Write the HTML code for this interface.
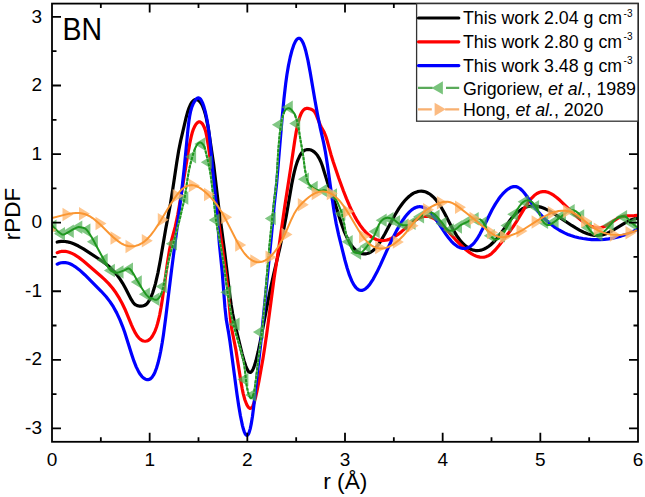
<!DOCTYPE html>
<html><head><meta charset="utf-8"><style>
html,body{margin:0;padding:0;background:#fff;}
body{width:645px;height:497px;overflow:hidden;font-family:"Liberation Sans",sans-serif;}
svg{display:block;}
</style></head><body>
<svg width="645" height="497" viewBox="0 0 645 497">
<rect width="645" height="497" fill="#fff"/>
<defs><clipPath id="pc"><rect x="52.00" y="3.60" width="586.00" height="438.20"/></clipPath></defs>
<g clip-path="url(#pc)">
<g fill="none" stroke-linejoin="round" stroke-linecap="round">
<path d="M57.20,242.05 59.20,241.62 61.20,241.39 63.20,241.35 65.20,241.50 67.20,241.80 69.45,242.33 71.70,243.04 74.20,244.00 78.45,246.03 83.45,248.89 101.20,260.51 105.95,263.98 110.20,267.59 113.95,271.39 117.45,275.58 120.20,279.40 122.70,283.33 125.45,288.22 131.20,299.41 132.95,302.16 134.45,303.93 135.70,304.93 137.20,305.67 138.95,306.05 140.95,306.12 142.70,305.97 144.20,305.56 145.70,304.74 146.95,303.67 148.45,301.80 149.95,299.26 151.45,296.01 152.70,292.73 154.20,288.09 155.45,283.60 157.95,272.86 160.45,259.73 165.70,228.93 170.45,203.84 172.45,191.28 176.70,162.67 178.70,150.54 180.70,140.60 186.20,117.21 187.45,112.58 188.95,108.05 190.45,104.58 191.95,102.08 193.45,100.47 194.20,99.97 194.95,99.65 195.70,99.52 196.70,99.60 197.45,99.84 198.45,100.38 199.95,101.71 201.45,103.82 202.70,106.31 203.95,109.57 205.20,113.72 206.45,118.85 207.70,125.09 208.70,130.93 213.70,164.76 218.95,209.22 224.45,250.19 229.70,294.08 231.20,305.09 232.70,314.09 234.20,321.20 240.20,346.09 242.20,354.07 243.95,360.38 245.70,365.76 247.20,369.33 247.95,370.67 248.70,371.66 249.45,372.26 250.20,372.44 250.95,372.18 251.95,371.18 252.95,369.47 253.95,367.13 255.95,360.77 258.20,351.47 260.45,340.58 266.95,306.33 270.70,287.66 273.70,273.99 279.95,247.28 283.20,232.02 286.45,214.83 291.70,184.41 293.20,176.82 294.45,171.35 295.70,166.64 296.95,162.64 298.20,159.29 299.45,156.54 300.70,154.33 302.20,152.33 303.70,150.93 305.45,149.95 307.20,149.54 308.95,149.54 310.95,150.03 312.70,150.87 314.45,152.12 316.20,153.85 317.70,155.81 319.20,158.30 320.95,162.01 322.45,165.95 327.45,182.37 329.20,187.42 334.45,201.60 341.45,223.81 343.70,230.03 345.95,235.41 347.70,239.04 349.70,242.64 351.70,245.68 353.70,248.19 355.70,250.21 357.95,251.93 359.95,253.00 362.20,253.70 363.70,253.89 365.45,253.84 367.20,253.52 368.95,252.93 370.70,252.10 372.45,250.98 373.95,249.77 375.45,248.29 378.20,244.87 381.45,239.88 384.95,233.70 391.95,220.39 395.20,214.50 398.95,208.41 402.45,203.51 404.70,200.76 406.70,198.60 408.95,196.48 410.95,194.89 413.20,193.42 415.20,192.42 417.45,191.64 419.45,191.25 421.45,191.16 423.20,191.32 425.20,191.80 426.95,192.48 428.95,193.55 430.70,194.75 432.70,196.42 434.45,198.16 436.20,200.15 437.95,202.40 441.20,207.29 444.45,213.04 450.95,225.63 453.70,230.69 456.70,235.59 459.70,239.78 461.45,241.90 463.45,244.02 465.45,245.84 467.45,247.36 469.45,248.59 471.45,249.52 473.45,250.17 475.45,250.54 477.20,250.64 479.20,250.50 480.95,250.16 482.95,249.53 484.70,248.77 486.70,247.67 488.45,246.51 490.45,244.97 494.20,241.46 497.95,237.20 501.45,232.58 509.70,220.75 512.20,217.62 514.95,214.62 518.45,211.48 521.95,209.05 525.45,207.34 527.20,206.73 528.95,206.30 530.70,206.03 532.70,205.90 534.70,205.95 536.70,206.18 540.70,207.11 545.20,208.81 549.45,210.92 553.95,213.56 571.70,225.48 575.70,227.98 579.45,230.12 583.70,232.22 587.45,233.70 590.95,234.72 594.45,235.33 597.45,235.49 600.45,235.27 603.20,234.72 606.20,233.72 608.95,232.50 612.20,230.76 623.45,223.79 628.20,221.16 630.70,220.03 632.95,219.21 635.20,218.62 637.20,218.32" stroke="#000" stroke-width="3.2"/>
<path d="M57.20,252.63 59.20,251.89 61.20,251.46 63.20,251.30 65.45,251.42 67.45,251.78 69.70,252.45 71.95,253.37 74.45,254.65 78.70,257.36 83.70,261.20 100.45,275.72 104.20,279.11 108.70,283.64 112.45,288.03 115.95,292.81 119.45,298.40 122.20,303.46 124.95,309.20 131.45,324.82 133.45,329.31 135.45,333.18 137.45,336.26 138.95,338.06 140.45,339.45 141.95,340.44 143.45,341.03 145.20,341.25 146.70,341.04 148.20,340.42 149.70,339.34 151.20,337.75 152.45,335.99 153.95,333.32 155.20,330.57 156.45,327.23 157.45,324.03 158.70,319.26 159.70,314.73 160.95,308.06 162.45,298.68 167.45,262.83 169.45,250.13 171.20,241.71 175.20,226.89 177.70,214.96 180.95,196.58 188.20,151.99 189.70,143.77 191.20,136.71 192.20,132.85 193.45,129.09 194.70,126.30 195.95,124.25 197.45,122.60 198.70,121.92 199.45,121.83 199.95,121.90 201.20,122.56 202.45,123.93 203.45,125.56 204.45,127.74 205.20,129.90 205.95,132.66 206.70,136.11 208.45,146.52 210.20,159.31 215.45,200.79 222.45,248.88 226.95,281.74 228.45,295.34 230.45,318.64 231.20,325.13 231.95,329.94 235.95,350.14 240.95,381.79 242.20,388.81 243.20,393.56 244.95,399.99 246.70,404.47 247.70,406.32 248.70,407.61 249.70,408.30 250.45,408.38 251.20,408.07 251.70,407.63 252.45,406.60 252.95,405.66 254.20,402.37 255.45,397.85 256.95,391.23 258.95,381.23 262.95,358.83 264.95,346.10 266.70,333.94 274.20,277.44 278.70,248.47 284.70,206.65 290.70,168.12 294.70,140.95 296.20,131.84 297.20,126.69 298.20,122.34 299.20,118.71 300.20,115.75 301.20,113.40 302.45,111.21 303.70,109.74 304.95,108.86 306.20,108.46 307.70,108.43 310.45,108.99 312.20,109.67 313.45,110.59 314.45,111.71 315.45,113.28 316.20,114.80 320.20,124.88 321.20,126.92 324.20,132.35 325.70,136.00 327.20,140.81 330.95,154.41 333.20,161.69 338.70,177.96 343.45,191.02 346.45,198.65 349.45,205.70 352.20,211.58 354.95,216.87 357.45,221.18 360.20,225.38 362.95,229.03 365.70,232.15 368.45,234.75 371.20,236.86 373.95,238.47 376.95,239.70 378.70,240.17 380.45,240.46 382.20,240.57 383.95,240.51 385.70,240.28 387.45,239.89 389.20,239.34 391.20,238.52 394.45,236.77 397.95,234.38 401.70,231.40 411.45,223.16 414.45,220.90 416.95,219.26 419.95,217.67 422.95,216.59 425.70,216.16 428.20,216.29 430.70,216.96 433.45,218.23 436.20,220.00 439.20,222.41 441.70,224.71 444.70,227.75 455.45,239.52 460.20,244.46 464.95,248.90 469.45,252.44 471.70,253.91 473.95,255.15 475.95,256.03 477.95,256.69 479.95,257.10 481.95,257.24 483.95,257.10 485.70,256.72 487.45,256.10 488.95,255.35 490.45,254.40 491.95,253.23 495.20,250.01 499.20,245.17 508.20,233.59 512.70,227.40 516.45,221.62 525.95,205.85 528.95,201.45 531.45,198.30 534.20,195.54 536.95,193.53 539.70,192.22 541.20,191.80 542.70,191.58 545.20,191.64 547.95,192.28 550.95,193.60 553.95,195.45 556.95,197.72 560.20,200.54 574.70,214.55 578.20,217.72 581.20,220.23 584.70,222.82 587.95,224.84 590.95,226.30 593.95,227.31 596.45,227.78 598.95,227.86 601.45,227.52 603.70,226.84 605.70,225.93 607.70,224.81 617.20,218.64 619.70,217.39 621.95,216.61 624.20,216.11 626.45,215.84 634.20,215.59 637.20,215.33" stroke="#ff0000" stroke-width="3.2"/>
<path d="M57.20,264.20 59.20,263.28 61.20,262.72 63.20,262.48 65.45,262.58 67.70,263.03 69.95,263.81 72.45,265.01 74.95,266.54 79.45,269.94 84.70,274.71 101.20,291.26 106.20,296.77 109.95,301.62 113.45,306.99 116.70,312.89 119.95,319.84 122.45,326.03 124.70,332.29 131.45,353.72 133.95,361.14 136.20,366.84 138.70,371.91 140.20,374.32 141.95,376.56 143.70,378.18 145.45,379.20 147.20,379.64 148.20,379.62 148.95,379.46 150.45,378.71 151.95,377.31 153.45,375.17 154.95,372.18 156.45,368.26 157.95,363.30 159.45,357.21 160.70,351.21 162.20,342.80 163.45,334.72 165.70,317.81 171.70,268.84 178.45,217.25 181.20,195.29 184.20,168.45 187.95,129.44 188.95,120.88 189.70,115.91 190.70,110.97 191.70,107.48 192.95,104.37 194.45,101.46 195.95,99.33 197.20,98.25 197.95,97.95 198.70,97.94 199.45,98.24 199.95,98.61 200.70,99.43 201.45,100.58 202.70,103.23 203.95,106.82 205.20,111.40 206.45,116.98 207.45,122.34 208.45,128.77 209.45,136.50 210.70,148.38 212.70,170.26 215.95,201.25 219.45,244.83 222.20,271.88 224.95,307.42 226.20,319.12 228.70,333.48 229.95,341.45 236.95,393.98 238.70,405.74 240.45,416.04 242.45,425.59 243.45,429.30 244.20,431.55 245.20,433.79 245.95,434.84 246.45,435.22 246.95,435.33 247.70,434.98 248.45,433.97 248.95,432.91 250.20,428.86 251.20,424.18 252.45,416.53 253.95,404.73 256.95,376.55 260.45,346.27 271.45,235.66 274.20,205.29 276.70,182.70 282.20,117.03 283.95,98.86 285.70,83.51 286.95,74.52 288.45,65.63 290.20,57.27 291.95,50.48 293.70,45.15 295.45,41.31 296.45,39.80 297.20,39.00 297.95,38.48 298.70,38.26 299.45,38.33 299.95,38.54 301.20,39.65 302.45,41.59 303.45,43.76 304.70,47.26 305.70,50.68 307.95,60.42 310.20,72.38 314.95,100.31 317.45,114.13 319.95,126.53 323.70,143.15 325.45,152.23 327.45,164.95 331.95,197.28 334.20,212.28 336.20,223.63 338.70,235.10 344.95,260.25 347.20,268.25 349.45,275.16 351.70,280.71 353.95,284.93 354.95,286.40 356.20,287.89 357.20,288.83 358.45,289.69 359.70,290.23 361.20,290.45 362.45,290.30 363.95,289.76 365.45,288.83 366.95,287.56 368.45,285.95 370.20,283.72 373.20,279.06 376.70,272.59 380.20,265.32 388.20,247.62 392.20,239.14 396.70,230.37 400.70,223.43 402.95,219.95 405.20,216.80 407.45,214.03 409.45,211.90 411.70,209.91 413.70,208.52 415.70,207.51 417.70,206.90 418.95,206.72 420.45,206.71 421.95,206.93 423.45,207.38 424.70,207.92 426.20,208.76 427.70,209.83 429.20,211.12 431.70,213.73 434.45,217.21 437.45,221.50 445.95,234.36 448.70,238.09 451.20,241.05 454.20,244.02 457.20,246.28 458.70,247.13 460.20,247.78 461.70,248.23 462.95,248.43 464.45,248.47 465.95,248.29 467.45,247.86 468.95,247.19 470.45,246.27 471.95,245.08 473.45,243.61 474.70,242.18 477.20,238.72 479.95,234.09 482.95,228.35 489.45,214.97 492.20,209.58 495.45,203.85 498.45,199.26 500.45,196.57 502.45,194.18 504.45,192.08 506.45,190.28 508.45,188.78 510.45,187.61 512.20,186.92 513.95,186.57 515.95,186.64 517.95,187.27 519.95,188.50 522.20,190.54 523.95,192.51 525.70,194.73 533.45,205.68 537.95,211.45 540.70,214.64 543.45,217.57 546.20,220.27 548.95,222.74 554.20,226.86 559.45,230.26 564.95,233.13 567.95,234.42 570.95,235.54 574.70,236.72 578.70,237.72 582.95,238.54 587.45,239.18 591.70,239.55 595.95,239.72 600.20,239.66 604.45,239.37 608.70,238.87 612.70,238.18 616.95,237.22 620.95,236.10 625.20,234.68 629.20,233.13 633.20,231.35 637.20,229.35" stroke="#0000ff" stroke-width="3.2"/>
</g>
<path d="M45.50,226.30 L56.50,219.55 L56.50,233.05 ZM54.00,233.69 L65.00,226.94 L65.00,240.44 ZM62.80,231.14 L73.80,224.39 L73.80,237.89 ZM71.30,227.34 L82.30,220.59 L82.30,234.09 ZM79.40,230.33 L90.40,223.58 L90.40,237.08 ZM86.90,241.85 L97.90,235.10 L97.90,248.60 ZM96.70,259.88 L107.70,253.13 L107.70,266.63 ZM103.90,270.55 L114.90,263.80 L114.90,277.30 ZM112.50,271.90 L123.50,265.15 L123.50,278.65 ZM122.00,269.35 L133.00,262.60 L133.00,276.10 ZM130.80,281.93 L141.80,275.18 L141.80,288.68 ZM138.90,294.24 L149.90,287.49 L149.90,300.99 ZM148.50,299.15 L159.50,292.40 L159.50,305.90 ZM155.80,286.59 L166.80,279.84 L166.80,293.34 ZM165.90,243.71 L176.90,236.96 L176.90,250.46 ZM177.30,197.88 L188.30,191.13 L188.30,204.63 ZM185.10,156.82 L196.10,150.07 L196.10,163.57 ZM194.30,143.90 L205.30,137.15 L205.30,150.65 ZM200.80,162.31 L211.80,155.56 L211.80,169.06 ZM208.70,220.11 L219.70,213.36 L219.70,226.86 ZM220.30,292.14 L231.30,285.39 L231.30,298.89 ZM228.60,324.30 L239.60,317.55 L239.60,331.05 ZM237.40,379.60 L248.40,372.85 L248.40,386.35 ZM245.20,395.10 L256.20,388.35 L256.20,401.85 ZM252.90,332.10 L263.90,325.35 L263.90,338.85 ZM264.80,218.40 L275.80,211.65 L275.80,225.15 ZM271.90,124.70 L282.90,117.95 L282.90,131.45 ZM281.80,107.30 L292.80,100.55 L292.80,114.05 ZM289.20,123.40 L300.20,116.65 L300.20,130.15 ZM297.90,179.20 L308.90,172.45 L308.90,185.95 ZM306.70,187.46 L317.70,180.71 L317.70,194.21 ZM316.30,190.40 L327.30,183.65 L327.30,197.15 ZM326.00,195.01 L337.00,188.26 L337.00,201.76 ZM334.40,213.87 L345.40,207.12 L345.40,220.62 ZM341.70,241.70 L352.70,234.95 L352.70,248.45 ZM350.10,252.95 L361.10,246.20 L361.10,259.70 ZM359.50,246.31 L370.50,239.56 L370.50,253.06 ZM368.70,231.53 L379.70,224.78 L379.70,238.28 ZM375.70,220.31 L386.70,213.56 L386.70,227.06 ZM382.50,218.64 L393.50,211.89 L393.50,225.39 ZM389.10,221.76 L400.10,215.01 L400.10,228.51 ZM397.60,225.25 L408.60,218.50 L408.60,232.00 ZM404.60,223.26 L415.60,216.51 L415.60,230.01 ZM413.10,216.66 L424.10,209.91 L424.10,223.41 ZM420.10,212.72 L431.10,205.97 L431.10,219.47 ZM428.60,216.13 L439.60,209.38 L439.60,222.88 ZM435.50,223.62 L446.50,216.87 L446.50,230.37 ZM442.80,229.90 L453.80,223.15 L453.80,236.65 ZM451.00,226.95 L462.00,220.20 L462.00,233.70 ZM459.70,222.00 L470.70,215.25 L470.70,228.75 ZM467.70,218.77 L478.70,212.02 L478.70,225.52 ZM475.80,222.96 L486.80,216.21 L486.80,229.71 ZM483.80,235.76 L494.80,229.01 L494.80,242.51 ZM494.00,235.70 L505.00,228.95 L505.00,242.45 ZM500.50,225.60 L511.50,218.85 L511.50,232.35 ZM507.20,214.34 L518.20,207.59 L518.20,221.09 ZM517.60,201.65 L528.60,194.90 L528.60,208.40 ZM528.10,206.82 L539.10,200.07 L539.10,213.57 ZM537.10,222.34 L548.10,215.59 L548.10,229.09 ZM547.60,221.38 L558.60,214.63 L558.60,228.13 ZM555.00,215.75 L566.00,209.00 L566.00,222.50 ZM563.70,210.70 L574.70,203.95 L574.70,217.45 ZM573.20,215.98 L584.20,209.23 L584.20,222.73 ZM580.90,227.61 L591.90,220.86 L591.90,234.36 ZM591.50,234.46 L602.50,227.71 L602.50,241.21 ZM602.70,225.25 L613.70,218.50 L613.70,232.00 ZM616.10,216.80 L627.10,210.05 L627.10,223.55 ZM625.20,223.40 L636.20,216.65 L636.20,230.15 Z" fill="#4caf50" fill-opacity="0.7"/>
<path d="M161.15,293.99 161.62,292.74 162.10,291.30 162.59,289.59 163.09,287.57 163.59,285.31 164.10,282.88 164.61,280.35 165.10,277.80 165.58,275.28 166.05,272.88 166.49,270.66 166.90,268.70 167.28,266.96 167.62,265.36 167.95,263.88 168.25,262.50 168.54,261.19 168.82,259.93 169.10,258.70 169.39,257.49 169.69,256.26 170.00,255.00 170.33,253.73 170.66,252.49 171.00,251.28 171.35,250.08 171.69,248.89 172.04,247.72 172.39,246.55 172.73,245.37 173.07,244.19 173.40,243.00 173.73,241.80 174.06,240.58 174.38,239.37 174.71,238.15 175.03,236.94 175.35,235.73 175.67,234.53 175.98,233.34 176.29,232.16 176.60,231.00 176.90,229.86 177.20,228.75 177.50,227.66 177.79,226.58 178.08,225.50 178.36,224.42 178.65,223.34 178.93,222.25 179.22,221.14 179.50,220.00 179.79,218.84 180.07,217.65 180.36,216.44 180.64,215.22 180.92,214.00 181.21,212.78 181.49,211.56 181.76,210.35 182.03,209.16 182.30,208.00 182.56,206.92 182.80,205.96 183.03,205.07 183.25,204.20 183.48,203.31 183.71,202.36 183.96,201.30 184.22,200.08 184.49,198.66 184.80,197.00 185.13,195.03 185.49,192.75 185.87,190.25 186.26,187.58 186.66,184.81 187.07,182.02 187.49,179.28 187.90,176.65 188.30,174.20 188.70,172.00 189.09,170.01 189.49,168.12 189.89,166.33 190.28,164.64 190.68,163.03 191.08,161.50 191.47,160.04 191.85,158.64 192.23,157.30 192.60,156.00 192.96,154.76 193.30,153.60 193.64,152.50 193.97,151.47 194.29,150.50 194.62,149.59 194.95,148.74 M204.31,146.65 204.58,147.34 204.83,148.08 205.06,148.87 205.28,149.72 205.50,150.63 205.72,151.61 205.96,152.66 206.22,153.79 206.50,155.00 206.81,156.30 207.15,157.70 207.51,159.19 207.88,160.75 208.25,162.38 208.62,164.05 208.99,165.76 209.35,167.50 209.69,169.25 210.00,171.00 210.29,172.80 210.58,174.67 210.85,176.61 211.11,178.58 211.36,180.56 211.60,182.54 211.83,184.50 212.06,186.41 212.28,188.25 212.50,190.00 212.71,191.66 212.90,193.24 213.09,194.76 213.27,196.24 213.44,197.69 213.61,199.12 213.78,200.55 213.95,202.00 214.12,203.48 214.30,205.00 214.46,206.50 214.60,207.93 214.73,209.32 214.85,210.70 214.98,212.12 215.13,213.62 215.30,215.21 215.52,216.95 215.78,218.87 216.10,221.00 216.50,223.41 216.97,226.11 217.50,229.03 218.07,232.10 218.67,235.25 219.27,238.42 219.86,241.55 220.42,244.57 220.94,247.41 221.40,250.00 221.80,252.34 222.15,254.50 222.48,256.50 222.78,258.41 223.06,260.25 223.34,262.07 223.61,263.92 223.89,265.82 224.18,267.84 224.50,270.00 224.83,272.31 225.17,274.71 225.50,277.20 225.85,279.74 226.19,282.31 226.54,284.90 226.90,287.49 227.26,290.05 227.63,292.56 228.00,295.00 228.38,297.41 228.77,299.84 229.16,302.27 229.56,304.68 229.97,307.06 230.38,309.40 230.78,311.68 231.19,313.88 231.60,315.99 232.00,318.00 232.40,319.89 232.79,321.66 233.18,323.35 233.58,324.95 233.97,326.50 234.36,328.01 234.76,329.49 235.17,330.98 235.58,332.47 236.00,334.00 236.43,335.54 236.88,337.05 237.34,338.54 237.80,340.02 238.27,341.50 238.73,342.98 239.19,344.46 239.64,345.95 240.08,347.46 240.50,349.00 240.91,350.54 241.31,352.07 241.71,353.60 242.10,355.14 242.48,356.69 242.85,358.26 243.21,359.87 243.56,361.53 243.89,363.23 244.20,365.00 244.49,366.88 244.76,368.90 245.02,371.02 245.25,373.19 245.48,375.38 245.70,377.53 245.92,379.61 246.14,381.58 246.37,383.39 246.60,385.00 246.84,386.44 247.08,387.75 247.33,388.95 247.57,390.05 247.81,391.05 248.05,391.97 248.29,392.81 248.53,393.60 248.77,394.32 249.00,395.00 249.23,395.64 249.44,396.23 M252.87,395.71 253.16,394.95 253.45,394.08 253.73,393.10 254.00,392.00 254.27,390.73 254.53,389.26 254.80,387.63 255.06,385.88 255.32,384.05 255.57,382.17 255.82,380.29 256.06,378.44 256.28,376.67 256.50,375.00 256.69,373.47 256.86,372.04 257.02,370.68 257.16,369.36 257.29,368.02 257.44,366.65 257.59,365.20 257.76,363.63 257.96,361.91 258.20,360.00 258.48,357.88 258.79,355.57 259.13,353.12 259.49,350.55 259.86,347.90 260.23,345.20 260.60,342.49 260.96,339.80 261.29,337.15 261.60,334.60 261.88,332.13 262.14,329.72 262.39,327.33 262.63,324.96 262.86,322.59 263.08,320.19 263.30,317.75 263.53,315.25 263.76,312.68 264.00,310.00 264.25,307.22 264.49,304.35 264.74,301.40 264.99,298.39 265.24,295.34 265.50,292.26 265.75,289.17 266.00,286.09 266.25,283.02 266.50,280.00 266.75,276.98 267.00,273.92 267.25,270.84 267.50,267.76 267.75,264.69 268.00,261.64 268.25,258.63 268.50,255.68 268.75,252.80 269.00,250.00 269.25,247.28 269.51,244.60 269.76,241.97 270.02,239.40 270.27,236.88 270.53,234.40 270.78,231.97 271.03,229.60 271.27,227.28 271.50,225.00 271.72,222.82 271.93,220.76 272.13,218.79 272.33,216.88 272.53,215.00 272.72,213.12 272.92,211.21 273.14,209.24 273.36,207.18 273.60,205.00 273.86,202.73 274.15,200.40 274.45,198.02 274.76,195.60 275.07,193.12 275.38,190.60 275.69,188.02 275.98,185.40 276.25,182.73 276.50,180.00 276.72,177.17 276.92,174.22 277.10,171.17 277.27,168.05 277.43,164.91 277.59,161.78 277.75,158.69 277.92,155.67 278.10,152.76 278.30,150.00 278.51,147.34 278.72,144.72 278.94,142.16 279.16,139.66 279.39,137.23 279.62,134.88 279.87,132.61 280.13,130.44 280.41,128.36 280.70,126.40 281.01,124.53 281.32,122.74 281.65,121.04 282.00,119.42 282.35,117.90 282.72,116.48 283.09,115.16 283.48,113.96 283.89,112.87 M295.01,114.97 295.18,115.43 295.34,115.91 295.49,116.39 295.65,116.90 295.81,117.44 296.00,118.00 296.20,118.56 296.39,119.10 296.59,119.62 296.78,120.16 296.98,120.73 297.17,121.35 297.37,122.04 297.57,122.81 297.78,123.69 298.00,124.70 298.22,125.85 298.45,127.14 298.68,128.54 298.92,130.03 299.16,131.59 299.41,133.18 299.65,134.80 299.90,136.40 300.15,137.98 300.40,139.50 300.65,140.98 300.91,142.44 301.17,143.89 301.44,145.34 301.70,146.79 301.96,148.26 302.23,149.75 302.49,151.26 302.75,152.81 303.00,154.40 303.24,156.05 303.47,157.78 303.69,159.57 303.91,161.38 304.13,163.21 304.36,165.02 304.59,166.79 304.84,168.52 305.11,170.16 305.40,171.70 305.69,173.17 305.97,174.59 306.24,175.97 306.52,177.31 306.82,178.59 307.16,179.81 307.54,180.98 307.99,182.09 M340.70,210.00 341.20,211.35 341.63,212.61 341.99,213.81 342.29,214.96 342.56,216.09 342.80,217.20 343.03,218.33 343.26,219.50 343.52,220.71 343.80,222.00 344.09,223.36 344.36,224.76 344.61,226.21 344.86,227.69 345.12,229.18 345.39,230.69 345.68,232.19 346.01,233.68 346.38,235.16 346.80,236.60 347.28,238.07 347.83,239.61 348.42,241.18 349.05,242.76 M376.34,230.69 376.89,229.28 M509.57,222.72 509.55,222.82 509.53,222.93 509.53,222.98 M539.11,212.96 539.53,214.02 539.92,215.09 540.31,216.16 540.69,217.21 541.08,218.22" fill="none" stroke="#72be72" stroke-width="2.0" stroke-linejoin="round"/>
<path d="M161.15,293.99 161.62,292.74 162.10,291.30 162.59,289.59 163.09,287.57 163.59,285.31 164.10,282.88 164.61,280.35 165.10,277.80 165.58,275.28 166.05,272.88 166.49,270.66 166.90,268.70 167.28,266.96 167.62,265.36 167.95,263.88 168.25,262.50 168.54,261.19 168.82,259.93 169.10,258.70 169.39,257.49 169.69,256.26 170.00,255.00 170.33,253.73 170.66,252.49 171.00,251.28 171.35,250.08 171.69,248.89 172.04,247.72 172.39,246.55 172.73,245.37 173.07,244.19 173.40,243.00 173.73,241.80 174.06,240.58 174.38,239.37 174.71,238.15 175.03,236.94 175.35,235.73 175.67,234.53 175.98,233.34 176.29,232.16 176.60,231.00 176.90,229.86 177.20,228.75 177.50,227.66 177.79,226.58 178.08,225.50 178.36,224.42 178.65,223.34 178.93,222.25 179.22,221.14 179.50,220.00 179.79,218.84 180.07,217.65 180.36,216.44 180.64,215.22 180.92,214.00 181.21,212.78 181.49,211.56 181.76,210.35 182.03,209.16 182.30,208.00 182.56,206.92 182.80,205.96 183.03,205.07 183.25,204.20 183.48,203.31 183.71,202.36 183.96,201.30 184.22,200.08 184.49,198.66 184.80,197.00 185.13,195.03 185.49,192.75 185.87,190.25 186.26,187.58 186.66,184.81 187.07,182.02 187.49,179.28 187.90,176.65 188.30,174.20 188.70,172.00 189.09,170.01 189.49,168.12 189.89,166.33 190.28,164.64 190.68,163.03 191.08,161.50 191.47,160.04 191.85,158.64 192.23,157.30 192.60,156.00 192.96,154.76 193.30,153.60 193.64,152.50 193.97,151.47 194.29,150.50 194.62,149.59 194.95,148.74 M204.31,146.65 204.58,147.34 204.83,148.08 205.06,148.87 205.28,149.72 205.50,150.63 205.72,151.61 205.96,152.66 206.22,153.79 206.50,155.00 206.81,156.30 207.15,157.70 207.51,159.19 207.88,160.75 208.25,162.38 208.62,164.05 208.99,165.76 209.35,167.50 209.69,169.25 210.00,171.00 210.29,172.80 210.58,174.67 210.85,176.61 211.11,178.58 211.36,180.56 211.60,182.54 211.83,184.50 212.06,186.41 212.28,188.25 212.50,190.00 212.71,191.66 212.90,193.24 213.09,194.76 213.27,196.24 213.44,197.69 213.61,199.12 213.78,200.55 213.95,202.00 214.12,203.48 214.30,205.00 214.46,206.50 214.60,207.93 214.73,209.32 214.85,210.70 214.98,212.12 215.13,213.62 215.30,215.21 215.52,216.95 215.78,218.87 216.10,221.00 216.50,223.41 216.97,226.11 217.50,229.03 218.07,232.10 218.67,235.25 219.27,238.42 219.86,241.55 220.42,244.57 220.94,247.41 221.40,250.00 221.80,252.34 222.15,254.50 222.48,256.50 222.78,258.41 223.06,260.25 223.34,262.07 223.61,263.92 223.89,265.82 224.18,267.84 224.50,270.00 224.83,272.31 225.17,274.71 225.50,277.20 225.85,279.74 226.19,282.31 226.54,284.90 226.90,287.49 227.26,290.05 227.63,292.56 228.00,295.00 228.38,297.41 228.77,299.84 229.16,302.27 229.56,304.68 229.97,307.06 230.38,309.40 230.78,311.68 231.19,313.88 231.60,315.99 232.00,318.00 232.40,319.89 232.79,321.66 233.18,323.35 233.58,324.95 233.97,326.50 234.36,328.01 234.76,329.49 235.17,330.98 235.58,332.47 236.00,334.00 236.43,335.54 236.88,337.05 237.34,338.54 237.80,340.02 238.27,341.50 238.73,342.98 239.19,344.46 239.64,345.95 240.08,347.46 240.50,349.00 240.91,350.54 241.31,352.07 241.71,353.60 242.10,355.14 242.48,356.69 242.85,358.26 243.21,359.87 243.56,361.53 243.89,363.23 244.20,365.00 244.49,366.88 244.76,368.90 245.02,371.02 245.25,373.19 245.48,375.38 245.70,377.53 245.92,379.61 246.14,381.58 246.37,383.39 246.60,385.00 246.84,386.44 247.08,387.75 247.33,388.95 247.57,390.05 247.81,391.05 248.05,391.97 248.29,392.81 248.53,393.60 248.77,394.32 249.00,395.00 249.23,395.64 249.44,396.23 M252.87,395.71 253.16,394.95 253.45,394.08 253.73,393.10 254.00,392.00 254.27,390.73 254.53,389.26 254.80,387.63 255.06,385.88 255.32,384.05 255.57,382.17 255.82,380.29 256.06,378.44 256.28,376.67 256.50,375.00 256.69,373.47 256.86,372.04 257.02,370.68 257.16,369.36 257.29,368.02 257.44,366.65 257.59,365.20 257.76,363.63 257.96,361.91 258.20,360.00 258.48,357.88 258.79,355.57 259.13,353.12 259.49,350.55 259.86,347.90 260.23,345.20 260.60,342.49 260.96,339.80 261.29,337.15 261.60,334.60 261.88,332.13 262.14,329.72 262.39,327.33 262.63,324.96 262.86,322.59 263.08,320.19 263.30,317.75 263.53,315.25 263.76,312.68 264.00,310.00 264.25,307.22 264.49,304.35 264.74,301.40 264.99,298.39 265.24,295.34 265.50,292.26 265.75,289.17 266.00,286.09 266.25,283.02 266.50,280.00 266.75,276.98 267.00,273.92 267.25,270.84 267.50,267.76 267.75,264.69 268.00,261.64 268.25,258.63 268.50,255.68 268.75,252.80 269.00,250.00 269.25,247.28 269.51,244.60 269.76,241.97 270.02,239.40 270.27,236.88 270.53,234.40 270.78,231.97 271.03,229.60 271.27,227.28 271.50,225.00 271.72,222.82 271.93,220.76 272.13,218.79 272.33,216.88 272.53,215.00 272.72,213.12 272.92,211.21 273.14,209.24 273.36,207.18 273.60,205.00 273.86,202.73 274.15,200.40 274.45,198.02 274.76,195.60 275.07,193.12 275.38,190.60 275.69,188.02 275.98,185.40 276.25,182.73 276.50,180.00 276.72,177.17 276.92,174.22 277.10,171.17 277.27,168.05 277.43,164.91 277.59,161.78 277.75,158.69 277.92,155.67 278.10,152.76 278.30,150.00 278.51,147.34 278.72,144.72 278.94,142.16 279.16,139.66 279.39,137.23 279.62,134.88 279.87,132.61 280.13,130.44 280.41,128.36 280.70,126.40 281.01,124.53 281.32,122.74 281.65,121.04 282.00,119.42 282.35,117.90 282.72,116.48 283.09,115.16 283.48,113.96 283.89,112.87 M295.01,114.97 295.18,115.43 295.34,115.91 295.49,116.39 295.65,116.90 295.81,117.44 296.00,118.00 296.20,118.56 296.39,119.10 296.59,119.62 296.78,120.16 296.98,120.73 297.17,121.35 297.37,122.04 297.57,122.81 297.78,123.69 298.00,124.70 298.22,125.85 298.45,127.14 298.68,128.54 298.92,130.03 299.16,131.59 299.41,133.18 299.65,134.80 299.90,136.40 300.15,137.98 300.40,139.50 300.65,140.98 300.91,142.44 301.17,143.89 301.44,145.34 301.70,146.79 301.96,148.26 302.23,149.75 302.49,151.26 302.75,152.81 303.00,154.40 303.24,156.05 303.47,157.78 303.69,159.57 303.91,161.38 304.13,163.21 304.36,165.02 304.59,166.79 304.84,168.52 305.11,170.16 305.40,171.70 305.69,173.17 305.97,174.59 306.24,175.97 306.52,177.31 306.82,178.59 307.16,179.81 307.54,180.98 307.99,182.09 M340.70,210.00 341.20,211.35 341.63,212.61 341.99,213.81 342.29,214.96 342.56,216.09 342.80,217.20 343.03,218.33 343.26,219.50 343.52,220.71 343.80,222.00 344.09,223.36 344.36,224.76 344.61,226.21 344.86,227.69 345.12,229.18 345.39,230.69 345.68,232.19 346.01,233.68 346.38,235.16 346.80,236.60 347.28,238.07 347.83,239.61 348.42,241.18 349.05,242.76 M376.34,230.69 376.89,229.28 M509.57,222.72 509.55,222.82 509.53,222.93 509.53,222.98 M539.11,212.96 539.53,214.02 539.92,215.09 540.31,216.16 540.69,217.21 541.08,218.22" fill="none" stroke="#1f961f" stroke-width="2.0" stroke-linejoin="round" stroke-dasharray="3 1.3"/>
<path d="M52.00,225.50 52.24,225.74 52.54,226.05 52.91,226.42 53.31,226.84 53.75,227.28 54.21,227.74 54.67,228.21 55.14,228.67 55.58,229.10 56.00,229.50 56.40,229.88 56.82,230.26 57.23,230.65 57.65,231.03 58.06,231.40 58.47,231.76 58.87,232.11 59.26,232.43 59.64,232.73 60.00,233.00 60.34,233.25 60.65,233.49 60.94,233.72 61.22,233.93 61.50,234.12 61.78,234.28 62.06,234.42 62.35,234.52 62.66,234.58 63.00,234.60 63.36,234.58 63.72,234.51 64.09,234.40 64.48,234.26 64.88,234.09 65.28,233.89 65.69,233.68 66.12,233.46 66.56,233.23 67.00,233.00 67.46,232.75 67.94,232.48 68.43,232.19 68.93,231.88 69.44,231.56 69.95,231.23 70.47,230.91 70.98,230.59 71.50,230.29 72.00,230.00 72.51,229.72 73.03,229.43 73.56,229.14 74.10,228.86 74.62,228.58 75.14,228.32 75.65,228.07 76.13,227.85 76.58,227.66 77.00,227.50 77.37,227.37 77.69,227.27 77.97,227.19 78.23,227.14 78.48,227.10 78.73,227.08 78.99,227.09 79.28,227.11 79.62,227.15 80.00,227.20 80.44,227.26 80.94,227.34 81.47,227.43 82.03,227.54 82.61,227.66 83.18,227.81 83.76,227.99 84.31,228.19 84.82,228.43 85.30,228.70 85.73,229.01 86.14,229.34 86.51,229.71 86.88,230.10 87.22,230.52 87.57,230.97 87.91,231.44 88.26,231.94 88.62,232.46 89.00,233.00 89.39,233.57 89.79,234.18 90.19,234.81 90.60,235.47 91.01,236.16 91.42,236.86 91.84,237.58 92.25,238.31 92.68,239.05 93.10,239.80 93.53,240.56 93.95,241.34 94.39,242.14 94.82,242.95 95.26,243.78 95.70,244.61 96.14,245.45 96.59,246.30 97.04,247.15 97.50,248.00 97.97,248.87 98.45,249.76 98.95,250.66 99.44,251.58 99.94,252.49 100.44,253.40 100.93,254.30 101.40,255.16 101.86,256.00 102.30,256.80 102.71,257.56 103.10,258.28 103.48,258.97 103.84,259.65 104.19,260.30 104.54,260.94 104.90,261.58 105.25,262.21 105.62,262.85 106.00,263.50 106.39,264.17 106.80,264.86 107.21,265.57 107.62,266.28 108.04,266.97 108.46,267.65 108.87,268.29 109.29,268.89 109.70,269.43 110.10,269.90 110.50,270.31 110.89,270.65 111.28,270.95 111.67,271.21 112.06,271.43 112.44,271.62 112.83,271.79 113.22,271.93 113.61,272.07 114.00,272.20 114.39,272.32 114.76,272.42 115.13,272.51 115.50,272.57 115.87,272.62 116.25,272.64 116.65,272.64 117.07,272.62 117.52,272.57 118.00,272.50 118.52,272.39 119.07,272.24 119.65,272.05 120.26,271.83 120.88,271.60 121.50,271.36 122.14,271.12 122.77,270.89 123.39,270.68 124.00,270.50 124.59,270.28 125.17,269.98 125.74,269.63 126.31,269.27 126.88,268.95 127.46,268.70 128.06,268.56 128.68,268.57 129.32,268.77 130.00,269.20 130.73,269.90 131.50,270.87 132.32,272.04 133.16,273.37 134.01,274.79 134.85,276.27 135.68,277.74 136.47,279.16 137.21,280.46 137.90,281.60 138.53,282.61 139.11,283.57 139.65,284.49 140.17,285.36 140.66,286.19 141.13,287.00 141.59,287.78 142.06,288.53 142.52,289.27 143.00,290.00 143.48,290.72 143.96,291.43 144.42,292.12 144.89,292.78 145.34,293.43 145.80,294.04 146.25,294.61 146.70,295.15 147.15,295.65 147.60,296.10 148.04,296.50 148.48,296.84 148.91,297.14 149.33,297.40 149.76,297.62 150.18,297.83 150.62,298.01 151.07,298.18 151.52,298.34 152.00,298.50 152.50,298.69 153.01,298.92 153.54,299.16 154.08,299.40 154.62,299.61 155.17,299.76 155.72,299.84 156.26,299.82 156.79,299.68 157.30,299.40 157.80,299.02 158.29,298.59 158.78,298.09 159.26,297.50 159.73,296.82 160.20,296.02 160.68,295.08 161.15,293.99 M194.95,148.74 195.29,147.94 195.64,147.20 196.00,146.50 196.38,145.84 196.76,145.23 197.16,144.66 197.56,144.14 197.96,143.69 198.37,143.30 198.78,142.98 199.19,142.73 199.60,142.57 200.00,142.50 200.41,142.52 200.82,142.63 201.25,142.83 201.67,143.10 202.09,143.44 202.51,143.84 202.91,144.31 203.30,144.83 203.66,145.39 204.00,146.00 204.31,146.65 M249.44,396.23 249.66,396.76 249.87,397.22 250.07,397.61 250.29,397.92 250.50,398.15 250.72,398.27 250.96,398.29 251.20,398.20 251.46,398.01 251.73,397.73 252.01,397.37 252.29,396.92 252.58,396.36 252.87,395.71 M283.89,112.87 284.30,111.90 284.73,111.06 285.18,110.35 285.65,109.75 286.13,109.27 286.62,108.89 287.12,108.61 287.61,108.42 288.11,108.31 288.61,108.27 289.10,108.30 289.60,108.44 290.12,108.72 290.65,109.12 291.19,109.61 291.73,110.17 292.24,110.77 292.74,111.39 293.20,112.00 293.63,112.58 294.00,113.10 294.32,113.58 294.59,114.04 294.81,114.51 295.01,114.97 M307.99,182.09 308.50,183.13 309.10,184.10 309.81,185.01 310.62,185.85 311.52,186.64 312.48,187.36 313.48,188.03 314.49,188.63 315.51,189.17 316.49,189.64 317.43,190.05 318.30,190.40 319.11,190.64 319.88,190.75 320.63,190.75 321.36,190.68 322.07,190.57 322.78,190.44 323.48,190.33 324.18,190.27 324.88,190.28 325.60,190.40 326.32,190.56 327.04,190.69 327.75,190.82 328.45,190.99 329.16,191.20 329.87,191.49 330.59,191.90 331.32,192.43 332.05,193.12 332.80,194.00 333.58,195.12 334.41,196.47 335.27,198.01 336.14,199.70 337.01,201.47 337.85,203.29 338.66,205.10 339.42,206.86 340.10,208.51 340.70,210.00 M349.05,242.76 349.69,244.31 350.35,245.79 351.00,247.19 351.64,248.46 352.24,249.57 352.80,250.50 353.32,251.23 353.83,251.79 354.31,252.20 354.78,252.49 355.24,252.68 355.70,252.80 356.15,252.87 356.59,252.91 357.04,252.94 357.50,253.00 357.95,253.07 358.38,253.13 358.80,253.17 359.22,253.17 359.64,253.14 360.07,253.05 360.51,252.90 360.98,252.68 361.47,252.39 362.00,252.00 362.57,251.50 363.19,250.90 363.83,250.21 364.50,249.44 365.18,248.62 365.87,247.76 366.55,246.88 367.23,246.00 367.88,245.13 368.50,244.30 369.10,243.50 369.68,242.72 370.25,241.94 370.80,241.15 371.36,240.36 371.90,239.53 372.45,238.68 372.99,237.78 373.54,236.82 374.10,235.80 374.66,234.67 375.22,233.42 375.78,232.08 376.34,230.69 M376.89,229.28 377.45,227.89 378.01,226.55 378.57,225.30 379.14,224.17 379.70,223.20 380.26,222.37 380.81,221.62 381.36,220.96 381.91,220.38 382.46,219.87 383.02,219.42 383.59,219.04 384.18,218.71 384.78,218.43 385.40,218.20 386.05,218.02 386.72,217.91 387.40,217.86 388.11,217.86 388.82,217.92 389.54,218.04 390.26,218.19 390.98,218.39 391.69,218.63 392.40,218.90 393.11,219.24 393.82,219.68 394.54,220.20 395.26,220.76 395.98,221.36 396.69,221.95 397.40,222.53 398.08,223.06 398.75,223.53 399.40,223.90 400.02,224.20 400.60,224.47 401.16,224.69 401.71,224.89 402.25,225.04 402.79,225.16 403.34,225.25 403.90,225.30 404.48,225.32 405.10,225.30 405.75,225.25 406.42,225.16 407.10,225.04 407.80,224.88 408.51,224.69 409.23,224.47 409.95,224.20 410.67,223.91 411.39,223.57 412.10,223.20 412.81,222.77 413.52,222.28 414.23,221.73 414.94,221.14 415.65,220.52 416.36,219.90 417.07,219.26 417.78,218.65 418.49,218.05 419.20,217.50 419.90,216.95 420.61,216.38 421.31,215.79 422.01,215.21 422.71,214.65 423.40,214.12 424.10,213.63 424.80,213.21 425.50,212.86 426.20,212.60 426.89,212.41 427.58,212.26 428.26,212.15 428.94,212.10 429.62,212.11 430.31,212.18 431.01,212.33 431.72,212.56 432.45,212.88 433.20,213.30 433.98,213.84 434.79,214.52 435.63,215.32 436.48,216.20 437.33,217.14 438.18,218.12 439.03,219.12 439.85,220.09 440.64,221.03 441.40,221.90 442.12,222.76 442.81,223.67 443.48,224.60 444.13,225.53 444.76,226.44 445.39,227.30 446.01,228.11 446.63,228.82 447.26,229.43 447.90,229.90 448.54,230.25 449.18,230.49 449.82,230.64 450.46,230.71 451.10,230.70 451.74,230.63 452.38,230.50 453.02,230.34 453.66,230.13 454.30,229.90 454.95,229.61 455.60,229.22 456.25,228.76 456.90,228.25 457.55,227.70 458.20,227.14 458.85,226.57 459.50,226.03 460.15,225.54 460.80,225.10 461.44,224.72 462.09,224.36 462.73,224.03 463.37,223.71 464.01,223.41 464.64,223.11 465.28,222.82 465.92,222.52 466.56,222.22 467.20,221.90 467.84,221.56 468.48,221.18 469.12,220.79 469.76,220.39 470.39,220.00 471.03,219.63 471.67,219.29 472.31,219.00 472.96,218.76 473.60,218.60 474.25,218.49 474.92,218.42 475.60,218.38 476.27,218.39 476.95,218.44 477.62,218.53 478.27,218.67 478.91,218.86 479.52,219.10 480.10,219.40 480.65,219.75 481.17,220.16 481.66,220.63 482.14,221.14 482.61,221.70 483.06,222.30 483.51,222.95 483.97,223.63 484.43,224.35 484.90,225.10 485.37,225.92 485.83,226.85 486.29,227.84 486.74,228.88 487.19,229.95 487.66,231.01 488.14,232.04 488.63,233.02 489.15,233.91 489.70,234.70 490.28,235.42 490.89,236.14 491.53,236.82 492.18,237.47 492.85,238.06 493.53,238.57 494.20,239.00 494.88,239.32 495.55,239.53 496.20,239.60 496.84,239.54 497.49,239.35 498.13,239.05 498.77,238.65 499.41,238.16 500.04,237.58 500.68,236.94 501.32,236.24 501.96,235.49 502.60,234.70 503.26,233.79 503.97,232.70 504.69,231.49 505.42,230.19 506.14,228.87 506.83,227.56 507.48,226.32 508.07,225.20 508.58,224.24 509.00,223.50 509.30,223.01 509.47,222.76 509.55,222.68 509.57,222.72 M509.53,222.98 509.59,222.94 509.74,222.73 510.00,222.30 510.37,221.66 510.82,220.85 511.34,219.93 511.90,218.90 512.51,217.81 513.13,216.68 513.77,215.54 514.40,214.43 515.02,213.37 515.60,212.40 516.17,211.47 516.74,210.53 517.31,209.59 517.88,208.66 518.45,207.75 519.02,206.87 519.59,206.04 520.16,205.26 520.73,204.54 521.30,203.90 521.86,203.32 522.43,202.79 522.99,202.31 523.55,201.87 524.11,201.49 524.66,201.16 525.22,200.88 525.78,200.66 526.34,200.50 526.90,200.40 527.46,200.35 528.02,200.36 528.58,200.42 529.14,200.53 529.69,200.70 530.25,200.93 530.81,201.22 531.37,201.58 531.94,202.01 532.50,202.50 533.07,203.08 533.66,203.77 534.25,204.54 534.84,205.38 535.44,206.27 536.02,207.20 536.60,208.15 537.15,209.11 537.69,210.07 538.20,211.00 538.67,211.95 539.11,212.96 M541.08,218.22 541.49,219.17 541.93,220.04 542.40,220.80 542.90,221.48 543.43,222.13 543.97,222.72 544.53,223.26 545.11,223.74 545.69,224.16 546.27,224.51 546.85,224.78 547.43,224.98 548.00,225.10 548.57,225.11 549.14,225.02 549.71,224.83 550.28,224.56 550.85,224.24 551.42,223.87 551.99,223.47 552.56,223.07 553.13,222.67 553.70,222.30 554.26,221.93 554.83,221.53 555.39,221.12 555.95,220.68 556.51,220.24 557.06,219.78 557.62,219.33 558.18,218.88 558.74,218.43 559.30,218.00 559.87,217.57 560.44,217.13 561.02,216.69 561.60,216.25 562.18,215.81 562.75,215.37 563.32,214.95 563.86,214.55 564.39,214.16 564.90,213.80 565.38,213.45 565.84,213.12 566.29,212.79 566.72,212.48 567.14,212.18 567.55,211.90 567.96,211.64 568.37,211.40 568.78,211.19 569.20,211.00 569.62,210.83 570.05,210.68 570.47,210.54 570.89,210.43 571.31,210.34 571.73,210.27 572.15,210.23 572.57,210.22 572.98,210.24 573.40,210.30 573.82,210.40 574.24,210.53 574.67,210.70 575.10,210.90 575.52,211.13 575.94,211.38 576.35,211.65 576.75,211.92 577.13,212.21 577.50,212.50 577.84,212.78 578.14,213.04 578.42,213.30 578.69,213.58 578.95,213.87 579.22,214.20 579.51,214.57 579.83,215.01 580.19,215.51 580.60,216.10 581.07,216.80 581.58,217.60 582.12,218.49 582.70,219.44 583.29,220.43 583.90,221.44 584.52,222.44 585.12,223.42 585.72,224.35 586.30,225.20 586.86,226.01 587.43,226.82 587.99,227.61 588.55,228.39 589.11,229.14 589.66,229.87 590.22,230.55 590.78,231.19 591.34,231.77 591.90,232.30 592.46,232.78 593.02,233.22 593.58,233.63 594.14,234.00 594.69,234.32 595.25,234.59 595.81,234.81 596.37,234.97 596.94,235.07 597.50,235.10 598.07,235.06 598.64,234.94 599.21,234.76 599.78,234.52 600.35,234.23 600.92,233.90 601.49,233.53 602.06,233.14 602.63,232.72 603.20,232.30 603.76,231.85 604.33,231.36 604.89,230.82 605.45,230.26 606.01,229.67 606.56,229.06 607.12,228.45 607.68,227.82 608.24,227.21 608.80,226.60 609.36,225.98 609.92,225.33 610.48,224.67 611.04,223.99 611.59,223.31 612.15,222.65 612.71,222.00 613.27,221.39 613.84,220.82 614.40,220.30 614.97,219.82 615.54,219.36 616.11,218.93 616.68,218.53 617.25,218.16 617.82,217.81 618.39,217.50 618.96,217.23 619.53,217.00 620.10,216.80 620.66,216.63 621.23,216.49 621.79,216.37 622.35,216.28 622.91,216.23 623.46,216.23 624.02,216.28 624.58,216.39 625.14,216.56 625.70,216.80 626.26,217.14 626.82,217.57 627.37,218.09 627.93,218.67 628.48,219.29 629.04,219.94 629.60,220.60 630.16,221.24 630.73,221.84 631.30,222.40 631.90,222.94 632.56,223.50 633.23,224.08 633.92,224.65 634.60,225.20 635.25,225.73 635.85,226.21 636.39,226.64 636.85,227.01 637.20,227.30" fill="none" stroke="#1f961f" stroke-width="2.0" stroke-linejoin="round" stroke-linecap="round"/>
<path d="M56.50,230.10 L45.50,223.35 L45.50,236.85 ZM73.50,214.40 L62.50,207.65 L62.50,221.15 ZM90.00,213.84 L79.00,207.09 L79.00,220.59 ZM106.50,223.46 L95.50,216.71 L95.50,230.21 ZM121.50,237.96 L110.50,231.21 L110.50,244.71 ZM136.50,246.43 L125.50,239.68 L125.50,253.18 ZM152.80,240.79 L141.80,234.04 L141.80,247.54 ZM168.80,219.66 L157.80,212.91 L157.80,226.41 ZM183.70,195.76 L172.70,189.01 L172.70,202.51 ZM199.90,185.56 L188.90,178.81 L188.90,192.31 ZM215.00,194.40 L204.00,187.65 L204.00,201.15 ZM232.10,217.32 L221.10,210.57 L221.10,224.07 ZM246.20,245.12 L235.20,238.37 L235.20,251.87 ZM261.30,261.10 L250.30,254.35 L250.30,267.85 ZM276.50,257.24 L265.50,250.49 L265.50,263.99 ZM292.50,234.50 L281.50,227.75 L281.50,241.25 ZM308.80,204.80 L297.80,198.05 L297.80,211.55 ZM322.70,193.53 L311.70,186.78 L311.70,200.28 ZM337.80,193.43 L326.80,186.68 L326.80,200.18 ZM354.10,211.39 L343.10,204.64 L343.10,218.14 ZM370.10,236.55 L359.10,229.80 L359.10,243.30 ZM386.20,247.60 L375.20,240.85 L375.20,254.35 ZM403.80,242.03 L392.80,235.28 L392.80,248.78 ZM418.60,225.84 L407.60,219.09 L407.60,232.59 ZM434.10,209.74 L423.10,202.99 L423.10,216.49 ZM447.90,202.81 L436.90,196.06 L436.90,209.56 ZM466.00,207.15 L455.00,200.40 L455.00,213.90 ZM480.50,218.60 L469.50,211.85 L469.50,225.35 ZM498.00,232.62 L487.00,225.87 L487.00,239.37 ZM511.00,237.10 L500.00,230.35 L500.00,243.85 ZM527.50,231.11 L516.50,224.36 L516.50,237.86 ZM542.60,222.10 L531.60,215.35 L531.60,228.85 ZM558.80,212.79 L547.80,206.04 L547.80,219.54 ZM574.20,211.14 L563.20,204.39 L563.20,217.89 ZM592.10,221.29 L581.10,214.54 L581.10,228.04 ZM604.70,229.35 L593.70,222.60 L593.70,236.10 ZM620.90,235.00 L609.90,228.25 L609.90,241.75 ZM636.50,232.82 L625.50,226.07 L625.50,239.57 Z" fill="#ffb870" fill-opacity="0.8"/>
<path d="M52.00,217.98 66.25,214.36 69.75,213.64 72.75,213.20 76.00,212.97 79.25,213.06 82.25,213.48 85.25,214.28 87.75,215.27 90.00,216.43 92.50,218.04 95.25,220.13 100.25,224.56 109.50,233.67 113.25,237.20 117.00,240.38 120.50,242.86 122.50,244.01 124.25,244.84 126.00,245.48 128.00,246.00 129.75,246.26 131.75,246.34 133.50,246.23 135.50,245.88 137.50,245.31 139.50,244.51 141.50,243.48 143.50,242.18 145.25,240.82 147.00,239.24 150.75,235.12 154.25,230.49 158.00,224.91 169.50,205.97 173.50,199.70 177.25,194.50 180.50,190.74 182.25,189.07 184.00,187.69 185.50,186.75 187.25,185.92 188.75,185.44 190.50,185.14 192.25,185.12 194.00,185.38 196.00,185.98 198.25,187.01 200.50,188.37 202.75,190.01 205.50,192.30 208.50,195.09 211.25,197.90 213.75,200.74 216.00,203.55 218.25,206.66 222.25,212.99 226.25,220.33 237.00,241.47 240.25,247.18 243.25,251.74 245.00,254.02 247.00,256.28 248.75,257.95 250.75,259.51 252.50,260.58 254.50,261.48 256.50,262.02 258.50,262.22 260.50,262.08 262.75,261.53 264.75,260.68 267.00,259.34 269.00,257.82 271.25,255.73 273.50,253.25 275.75,250.38 277.75,247.48 279.50,244.66 283.00,238.23 285.75,232.40 291.50,219.20 294.00,214.08 296.75,209.52 298.25,207.46 300.00,205.35 302.50,202.75 306.00,199.51 309.00,197.02 311.75,195.06 314.25,193.62 316.50,192.63 319.00,191.88 321.25,191.54 323.50,191.50 325.50,191.74 327.50,192.23 329.50,192.98 331.50,194.00 333.50,195.27 335.50,196.82 337.50,198.64 339.50,200.74 341.25,202.81 345.00,207.95 348.75,213.85 359.00,230.97 362.25,235.84 365.00,239.43 368.25,242.89 370.00,244.38 371.75,245.63 373.50,246.65 375.25,247.43 377.00,248.00 379.00,248.39 380.75,248.52 382.75,248.43 384.50,248.16 386.50,247.64 388.50,246.90 390.50,245.97 392.50,244.85 394.75,243.37 398.75,240.18 403.00,236.01 406.50,231.99 413.50,223.01 416.75,219.12 420.75,214.87 424.75,211.25 427.00,209.50 429.50,207.82 432.00,206.37 434.75,205.01 437.75,203.71 440.50,202.73 443.00,202.09 445.25,201.78 447.75,201.80 450.25,202.28 452.50,203.14 455.25,204.69 459.75,207.88 467.00,213.48 474.50,219.55 486.50,229.54 490.25,232.44 493.00,234.28 495.50,235.64 497.75,236.55 500.00,237.09 503.00,237.23 506.50,236.73 510.50,235.55 515.50,233.63 519.00,231.98 523.00,229.77 539.25,219.38 543.25,217.03 547.00,215.05 551.25,213.16 555.00,211.87 558.50,211.05 562.00,210.65 565.25,210.69 568.25,211.14 571.25,211.99 574.25,213.30 576.75,214.75 579.50,216.67 590.00,225.16 594.50,228.33 597.50,230.06 600.50,231.51 603.50,232.68 606.75,233.66 610.50,234.44 614.25,234.87 618.00,234.94 621.75,234.66 625.50,234.04 629.25,233.09 633.00,231.81 637.00,230.09" fill="none" stroke="#fa9632" stroke-width="2.0" stroke-linejoin="round"/>
</g>
<rect x="52.00" y="3.60" width="586.00" height="438.20" fill="none" stroke="#000" stroke-width="1.8"/>
<path d="M100.83,441.80V437.30M100.83,3.60V8.10M149.67,441.80V432.80M149.67,3.60V12.60M198.50,441.80V437.30M198.50,3.60V8.10M247.33,441.80V432.80M247.33,3.60V12.60M296.17,441.80V437.30M296.17,3.60V8.10M345.00,441.80V432.80M345.00,3.60V12.60M393.83,441.80V437.30M393.83,3.60V8.10M442.67,441.80V432.80M442.67,3.60V12.60M491.50,441.80V437.30M491.50,3.60V8.10M540.33,441.80V432.80M540.33,3.60V12.60M589.17,441.80V437.30M589.17,3.60V8.10M52.00,16.90H61.00M638.00,16.90H629.00M52.00,51.19H56.50M638.00,51.19H633.50M52.00,85.48H61.00M638.00,85.48H629.00M52.00,119.78H56.50M638.00,119.78H633.50M52.00,154.07H61.00M638.00,154.07H629.00M52.00,188.36H56.50M638.00,188.36H633.50M52.00,222.65H61.00M638.00,222.65H629.00M52.00,256.94H56.50M638.00,256.94H633.50M52.00,291.23H61.00M638.00,291.23H629.00M52.00,325.52H56.50M638.00,325.52H633.50M52.00,359.82H61.00M638.00,359.82H629.00M52.00,394.11H56.50M638.00,394.11H633.50M52.00,428.40H61.00M638.00,428.40H629.00" stroke="#000" stroke-width="1.8" fill="none"/>
<g font-family="Liberation Sans, sans-serif" font-size="19" fill="#000"><text x="52.00" y="465.60" text-anchor="middle">0</text><text x="149.67" y="465.60" text-anchor="middle">1</text><text x="247.33" y="465.60" text-anchor="middle">2</text><text x="345.00" y="465.60" text-anchor="middle">3</text><text x="442.67" y="465.60" text-anchor="middle">4</text><text x="540.33" y="465.60" text-anchor="middle">5</text><text x="638.00" y="465.60" text-anchor="middle">6</text><text x="42.00" y="22.50" text-anchor="end">3</text><text x="42.00" y="91.08" text-anchor="end">2</text><text x="42.00" y="159.67" text-anchor="end">1</text><text x="42.00" y="228.25" text-anchor="end">0</text><text x="42.00" y="296.83" text-anchor="end">-1</text><text x="42.00" y="365.42" text-anchor="end">-2</text><text x="42.00" y="434.00" text-anchor="end">-3</text></g>

<rect x="416.6" y="3.6" width="221.4" height="117.6" fill="#fff" stroke="#333" stroke-width="1.3"/>
<g stroke-width="3.2" stroke-linecap="round">
<path d="M418.5,18H458.8" stroke="#000"/>
<path d="M418.5,41.8H458.8" stroke="#ff0000"/>
<path d="M418.5,65.6H458.8" stroke="#0000ff"/>
</g>
<path d="M418,87.9H432.6M446,87.9H459.2" stroke="#5aaa5a" stroke-width="2.3"/>
<path d="M431.6,87.9L442.9,81.3L442.9,94.5Z" fill="#4caf50" fill-opacity="0.75"/>
<path d="M418,109.3H431.8M445.1,109.3H459.2" stroke="#f8b070" stroke-width="2.3"/>
<path d="M445.8,109.3L434.6,102.7L434.6,115.9Z" fill="#fbb474" fill-opacity="0.9"/>
<g font-family="Liberation Sans, sans-serif" font-size="17.8" fill="#000">
<text x="463" y="24">This work 2.04 g cm<tspan dx="1.5" dy="-7.5" font-size="10">-3</tspan></text>
<text x="463" y="47.8">This work 2.80 g cm<tspan dx="1.5" dy="-7.5" font-size="10">-3</tspan></text>
<text x="463" y="71.5">This work 3.48 g cm<tspan dx="1.5" dy="-7.5" font-size="10">-3</tspan></text>
<text x="463" y="94.8">Grigoriew, <tspan font-style="italic">et al.</tspan>, 1989</text>
<text x="463" y="116.3">Hong, <tspan font-style="italic">et al.</tspan>, 2020</text>
</g>
<text transform="translate(62.5,39.6) scale(1,1.09)" font-family="Liberation Sans, sans-serif" font-size="28.5">BN</text>
<text transform="translate(19.8,214) rotate(-90)" text-anchor="middle" font-family="Liberation Sans, sans-serif" font-size="22.5">rPDF</text>
<text x="345.3" y="489.3" text-anchor="middle" font-family="Liberation Sans, sans-serif" font-size="22.8">r (Å)</text>

</svg>
</body></html>
